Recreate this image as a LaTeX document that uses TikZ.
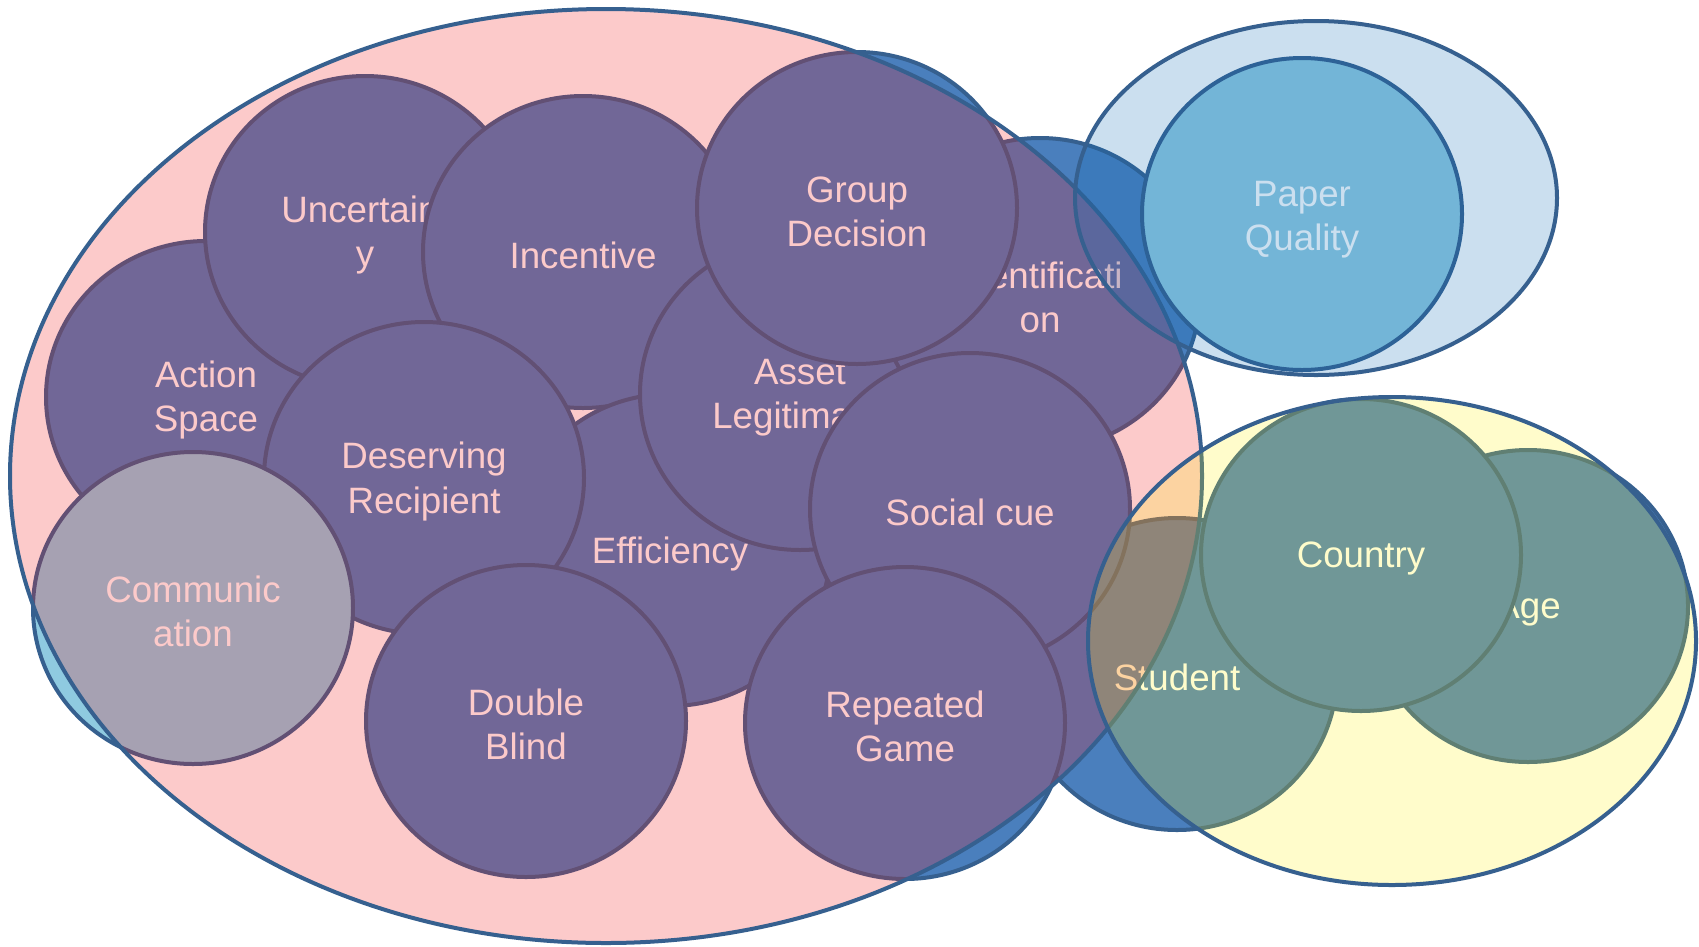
\documentclass[tikz,border=0pt]{standalone}
\usepackage{fontspec}
\setmainfont{Liberation Sans}
\usetikzlibrary{shapes.geometric}

% base colours of the factor discs
\definecolor{itemblue}{RGB}{74,127,189}
\definecolor{itemcyan}{RGB}{143,202,224}
\definecolor{rim}{RGB}{54,96,143}
% translucent tints of the three groups
\definecolor{tintred}{RGB}{246,27,27}
\definecolor{tintyellow}{RGB}{255,245,12}
\definecolor{tintblue}{RGB}{12,107,183}

\begin{document}
\begin{tikzpicture}[x=1pt,y=-1pt,
  item/.style={ellipse, draw=rim, line width=4pt, fill=itemblue,
    minimum width=320pt, minimum height=312pt, inner sep=0pt},
  cyanitem/.style={item, fill=itemcyan},
  caption/.style={text=white, align=center, inner sep=0pt, yshift=-3.5pt,
    font=\fontsize{36.7}{44}\selectfont},
  region/.style={ellipse, draw=rim, line width=4pt, inner sep=0pt},
  redset/.style={region, fill=tintred, fill opacity=0.232},
  yellowset/.style={region, fill=tintyellow, fill opacity=0.21},
  blueset/.style={region, fill=tintblue, fill opacity=0.21}]

\fill[white] (0,0) rectangle (1699,946);
\useasboundingbox (0,0) rectangle (1699,946);

% factor discs with their captions, back to front
\node[item] (action) at (206,397) {};
\node[caption] (action-t) at (action) {Action\\Space};
\node[item] (uncert) at (365,232) {};
\node[caption] (uncert-t) at (uncert) {Uncertaint\\y};
\node[item] (incent) at (583,252) {};
\node[caption] (incent-t) at (incent) {Incentive};
\node[item] (effic) at (670,550) {};
\node[caption] (effic-t) at (effic) {Efficiency};
\node[item] (asset) at (800,394) {};
\node[caption] (asset-t) at (asset) {Asset\\Legitimacy};
\node[item] (ident) at (1040,294) {};
\node[caption] (ident-t) at (ident) {Identificati\\on};
\node[item] (group) at (857,208) {};
\node[caption] (group-t) at (group) {Group\\Decision};
\node[item] (deserv) at (424,478) {};
\node[caption] (deserv-t) at (deserv) {Deserving\\Recipient};
\node[cyanitem] (comm) at (193,608) {};
\node[caption] (comm-t) at (comm) {Communic\\ation};
\node[item] (blind) at (526,721) {};
\node[caption] (blind-t) at (blind) {Double\\Blind};
\node[item] (student) at (1177,674) {};
\node[caption] (student-t) at (student) {Student};
\node[item] (social) at (970,509) {};
\node[caption] (social-t) at (social) {Social cue};
\node[item] (repeat) at (905,723) {};
\node[caption] (repeat-t) at (repeat) {Repeated\\Game};
\node[item] (age) at (1528,606) {};
\node[caption] (age-t) at (age) {Age};
\node[item] (country) at (1361,555) {};
\node[caption] (country-t) at (country) {Country};
\node[cyanitem] (paper) at (1302,214) {};
\node[caption, yshift=-2pt] (paper-t) at (paper) {Paper\\Quality};

% group regions laid over the discs
\node[redset, minimum width=1192pt, minimum height=934pt] (design) at (606,476) {};
\node[yellowset, minimum width=608pt, minimum height=488pt] (demog) at (1392,641) {};
\node[blueset, minimum width=482pt, minimum height=354pt] (quality) at (1316,198) {};
\end{tikzpicture}
\end{document}
